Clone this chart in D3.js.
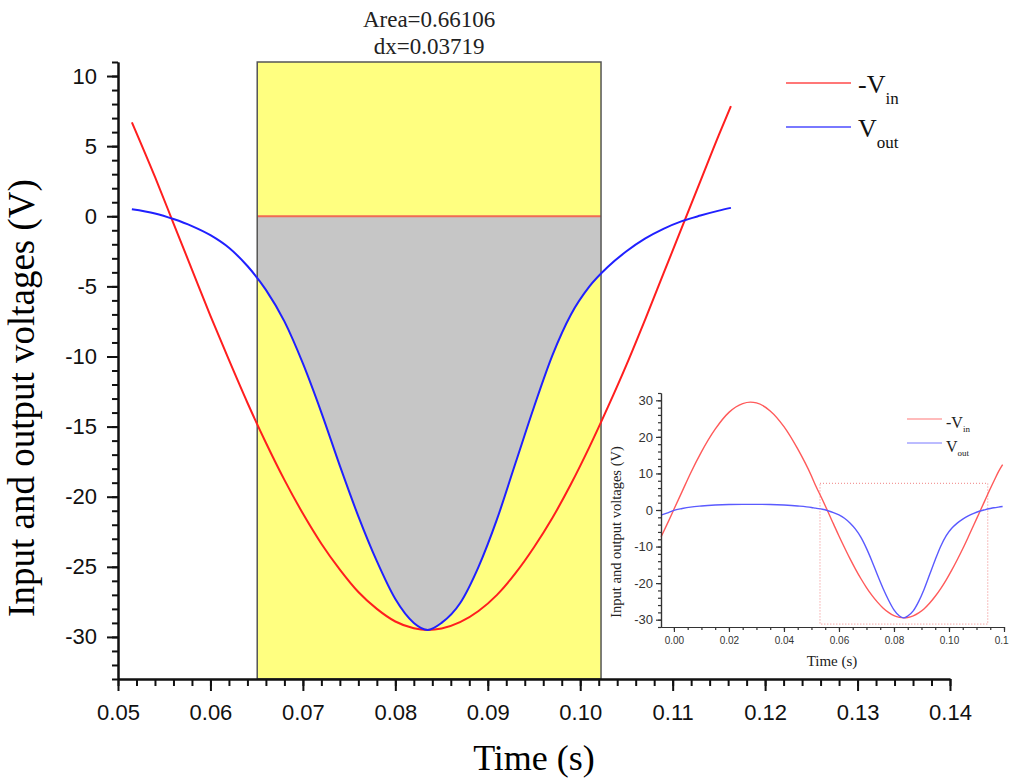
<!DOCTYPE html>
<html>
<head>
<meta charset="utf-8">
<script src="https://cdn.jsdelivr.net/npm/d3@7"></script>
<style>
  body { margin: 0; background: #fff; }
  svg { display: block; }
</style>
</head>
<body>
<div id="container"></div>
<script>
/**
 * CONSTANTS AND DATA
 * */
const width = 1009, height = 779;

// time (s), shared by both curves
const time = [-0.0047, -0.002, 0, 0.003, 0.006, 0.010, 0.015, 0.020, 0.025, 0.0278,
  0.030, 0.035, 0.040, 0.045, 0.050, 0.0515, 0.054, 0.056, 0.058, 0.060,
  0.062, 0.064, 0.066, 0.068, 0.070, 0.072, 0.074, 0.076, 0.078, 0.080,
  0.082, 0.0835, 0.085, 0.087, 0.089, 0.091, 0.093, 0.095, 0.097, 0.099,
  0.101, 0.103, 0.105, 0.107, 0.109, 0.111, 0.113, 0.115, 0.1163, 0.118, 0.1195];

// -Vin (V)
const vinNeg = [-7.4, -3.1, 0.2, 5.1, 10.0, 15.9, 22.1, 26.7, 29.1, 29.5,
  29.3, 27.1, 22.8, 16.7, 9.3, 6.7, 2.8, -0.5, -3.8, -7.1,
  -10.25, -13.3, -16.15, -18.8, -21.2, -23.35, -25.2, -26.8, -28.0, -28.9,
  -29.38, -29.5, -29.4, -28.95, -28.15, -27.0, -25.45, -23.6, -21.5, -19.1,
  -16.45, -13.6, -10.6, -7.4, -4.1, -0.8, 2.5, 5.8, 7.85, 10.5, 12.4];

// Vout (V)
const vout = [-1.4, -0.7, -0.1, 0.4, 0.8, 1.1, 1.35, 1.5, 1.55, 1.55,
  1.55, 1.5, 1.35, 1.1, 0.7, 0.5, 0.2, -0.2, -0.7, -1.35,
  -2.25, -3.55, -5.25, -7.5, -10.5, -14.0, -17.8, -21.4, -24.6, -27.3,
  -29.0, -29.5, -29.0, -27.6, -25.0, -21.6, -17.6, -13.6, -9.9, -7.0,
  -5.0, -3.6, -2.5, -1.6, -0.9, -0.35, 0.05, 0.4, 0.6, 0.8, 0.95];

// main plot
const mainRange = [0.0515, 0.1163];
const xTicksMain = [0.05, 0.06, 0.07, 0.08, 0.09, 0.10, 0.11, 0.12, 0.13, 0.14];
const yTicksMain = [-30, -25, -20, -15, -10, -5, 0, 5, 10];
const areaRange = [0.06506, 0.10225];
const areaLabel = ["Area=0.66106", "dx=0.03719"];

// inset
const xTicksInset = [0, 0.02, 0.04, 0.06, 0.08, 0.10, 0.12];
const yTicksInset = [-30, -20, -10, 0, 10, 20, 30];
const zoomBoxX = [0.0531, 0.1141];
const zoomBoxY = [-31.2, 7.3];

const legendBase = ["-V", "V"];
const legendSub = ["in", "out"];
const colors = ["#ff1e1e", "#2020ff"];

const points = time.map((t, i) => ({ t: t, vin: vinNeg[i], vout: vout[i] }));
const mainPoints = points.filter(d => d.t >= mainRange[0] - 1e-9 && d.t <= mainRange[1] + 1e-9);

const svg = d3.select("#container")
  .append("svg")
  .attr("width", width)
  .attr("height", height);

const sans = "'Liberation Sans', Arial, sans-serif";
const serif = "'Liberation Serif', 'Times New Roman', serif";
const plain = d => String(d);   // hyphen minus like the original

/**
 * MAIN CHART
 * */
const x = d3.scaleLinear().domain([0.05, 0.14]).range([118, 950]);
const y = d3.scaleLinear().domain([-33, 11]).range([679, 62]);

// yellow integration window
svg.append("rect")
  .attr("x", x(areaRange[0]))
  .attr("y", y(11))
  .attr("width", x(areaRange[1]) - x(areaRange[0]))
  .attr("height", y(-33) - y(11))
  .attr("fill", "#ffff80");

svg.append("clipPath").attr("id", "win")
  .append("rect")
  .attr("x", x(areaRange[0]))
  .attr("y", y(11))
  .attr("width", x(areaRange[1]) - x(areaRange[0]))
  .attr("height", y(-33) - y(11));

const area = d3.area()
  .x(d => x(d.t))
  .y0(y(0))
  .y1(d => y(d.vout))
  .curve(d3.curveMonotoneX);

svg.append("path")
  .datum(mainPoints)
  .attr("clip-path", "url(#win)")
  .attr("d", area)
  .attr("fill", "#c6c6c6");

// baseline of the area
svg.append("line")
  .attr("x1", x(areaRange[0])).attr("x2", x(areaRange[1]))
  .attr("y1", y(0)).attr("y2", y(0))
  .attr("stroke", "#f06a55")
  .attr("stroke-width", 2);

svg.append("rect")
  .attr("x", x(areaRange[0]))
  .attr("y", y(11))
  .attr("width", x(areaRange[1]) - x(areaRange[0]))
  .attr("height", y(-33) - y(11))
  .attr("fill", "none")
  .attr("stroke", "#555")
  .attr("stroke-width", 1.5);

const lineVin = d3.line().x(d => x(d.t)).y(d => y(d.vin)).curve(d3.curveMonotoneX);
const lineVout = d3.line().x(d => x(d.t)).y(d => y(d.vout)).curve(d3.curveMonotoneX);

svg.append("path").datum(mainPoints)
  .attr("d", lineVin).attr("fill", "none")
  .attr("stroke", colors[0]).attr("stroke-width", 2);
svg.append("path").datum(mainPoints)
  .attr("d", lineVout).attr("fill", "none")
  .attr("stroke", colors[1]).attr("stroke-width", 2);

// axes
const xMinor = d3.axisBottom(x).tickValues(d3.range(0.05, 0.1401, 0.002)).tickSize(7).tickSizeOuter(0).tickFormat("");
const xMajor = d3.axisBottom(x).tickValues(xTicksMain).tickSize(12).tickSizeOuter(0).tickPadding(13).tickFormat(d3.format(".2f"));
const yMinor = d3.axisLeft(y).tickValues(d3.range(-33, 11.01, 1)).tickSize(6).tickSizeOuter(0).tickFormat("");
const yMajor = d3.axisLeft(y).tickValues(yTicksMain).tickSize(11).tickSizeOuter(0).tickPadding(10).tickFormat(plain);

[xMinor, xMajor].forEach(a => {
  svg.append("g").attr("transform", `translate(0,${y(-33)})`).call(a);
});
[yMinor, yMajor].forEach(a => {
  svg.append("g").attr("transform", `translate(${x(0.05)},0)`).call(a);
});
svg.selectAll(".domain, .tick line").attr("stroke", "#111").attr("stroke-width", 2);
svg.selectAll(".tick text").attr("font-family", sans).attr("font-size", 22).attr("fill", "#111");

svg.append("text")
  .attr("x", (x(0.05) + x(0.14)) / 2)
  .attr("y", 770)
  .attr("text-anchor", "middle")
  .attr("font-family", serif)
  .attr("font-size", 36)
  .text("Time (s)");

svg.append("text")
  .attr("transform", "translate(34,398) rotate(-90)")
  .attr("text-anchor", "middle")
  .attr("font-family", serif)
  .attr("font-size", 37)
  .text("Input and output voltages (V)");

// area annotation
svg.selectAll("text.area-label")
  .data(areaLabel)
  .join("text")
  .attr("class", "area-label")
  .attr("x", (x(areaRange[0]) + x(areaRange[1])) / 2)
  .attr("y", (d, i) => 27 + i * 27)
  .attr("text-anchor", "middle")
  .attr("font-family", serif)
  .attr("font-size", 23)
  .attr("fill", "#222")
  .text(d => d);

// legend
const legend = svg.append("g");
legendBase.forEach((b, i) => {
  const ly = 83 + i * 44;
  legend.append("line")
    .attr("x1", 786).attr("x2", 851)
    .attr("y1", ly).attr("y2", ly)
    .attr("stroke", colors[i]).attr("stroke-width", 1.5).attr("opacity", 0.8);
  const t = legend.append("text")
    .attr("x", 858).attr("y", ly + 10)
    .attr("font-family", serif).attr("font-size", 26).attr("fill", "#111");
  t.append("tspan").text(b);
  t.append("tspan").attr("dy", 11).attr("font-size", 17).text(legendSub[i]);
});

/**
 * INSET
 * */
const xi = d3.scaleLinear().domain([-0.0047, 0.12]).range([661, 1004]);
const yi = d3.scaleLinear().domain([-32, 32]).range([627, 393]);
const inset = svg.append("g");

inset.append("rect")
  .attr("x", xi(zoomBoxX[0])).attr("y", yi(zoomBoxY[1]))
  .attr("width", xi(zoomBoxX[1]) - xi(zoomBoxX[0]))
  .attr("height", yi(zoomBoxY[0]) - yi(zoomBoxY[1]))
  .attr("fill", "none")
  .attr("stroke", "#f08080")
  .attr("stroke-width", 1)
  .attr("stroke-dasharray", "1,2");

const lineVinI = d3.line().x(d => xi(d.t)).y(d => yi(d.vin)).curve(d3.curveMonotoneX);
const lineVoutI = d3.line().x(d => xi(d.t)).y(d => yi(d.vout)).curve(d3.curveMonotoneX);
inset.append("path").datum(points).attr("d", lineVinI).attr("fill", "none")
  .attr("stroke", "#ff5a5a").attr("stroke-width", 1.4);
inset.append("path").datum(points).attr("d", lineVoutI).attr("fill", "none")
  .attr("stroke", "#5a5aff").attr("stroke-width", 1.4);

const xiMinor = d3.axisBottom(xi).tickValues(d3.range(0, 0.1201, 0.005)).tickSize(3).tickSizeOuter(0).tickFormat("");
const xiMajor = d3.axisBottom(xi).tickValues(xTicksInset).tickSize(5).tickSizeOuter(0).tickPadding(5).tickFormat(d3.format(".2f"));
const yiMinor = d3.axisLeft(yi).tickValues(d3.range(-32, 32.01, 2)).tickSize(3).tickSizeOuter(0).tickFormat("");
const yiMajor = d3.axisLeft(yi).tickValues(yTicksInset).tickSize(5).tickSizeOuter(0).tickPadding(3).tickFormat(plain);

const gxi = inset.append("g");
[xiMinor, xiMajor].forEach(a => gxi.append("g").attr("transform", `translate(0,${yi(-32)})`).call(a));
gxi.selectAll("text").attr("font-size", 10);
const gyi = inset.append("g");
[yiMinor, yiMajor].forEach(a => gyi.append("g").attr("transform", `translate(${xi(-0.0047)},0)`).call(a));
gyi.selectAll("text").attr("font-size", 13);
inset.selectAll(".domain, .tick line").attr("stroke", "#333").attr("stroke-width", 1.2);
inset.selectAll(".tick text").attr("font-family", sans).attr("fill", "#333");

inset.append("text")
  .attr("x", 832).attr("y", 666)
  .attr("text-anchor", "middle")
  .attr("font-family", serif).attr("font-size", 15).attr("fill", "#222")
  .text("Time (s)");
inset.append("text")
  .attr("transform", "translate(621,532) rotate(-90)")
  .attr("text-anchor", "middle")
  .attr("font-family", serif).attr("font-size", 14.5).attr("fill", "#222")
  .text("Input and output voltages (V)");

legendBase.forEach((b, i) => {
  const ly = 419 + i * 24;
  inset.append("line")
    .attr("x1", 907).attr("x2", 942)
    .attr("y1", ly).attr("y2", ly)
    .attr("stroke", colors[i]).attr("stroke-width", 1).attr("opacity", 0.6);
  const t = inset.append("text")
    .attr("x", 946).attr("y", ly + 9)
    .attr("font-family", serif).attr("font-size", 16).attr("fill", "#222");
  t.append("tspan").text(b);
  t.append("tspan").attr("dy", 4).attr("font-size", 9).text(legendSub[i]);
});
</script>
</body>
</html>
